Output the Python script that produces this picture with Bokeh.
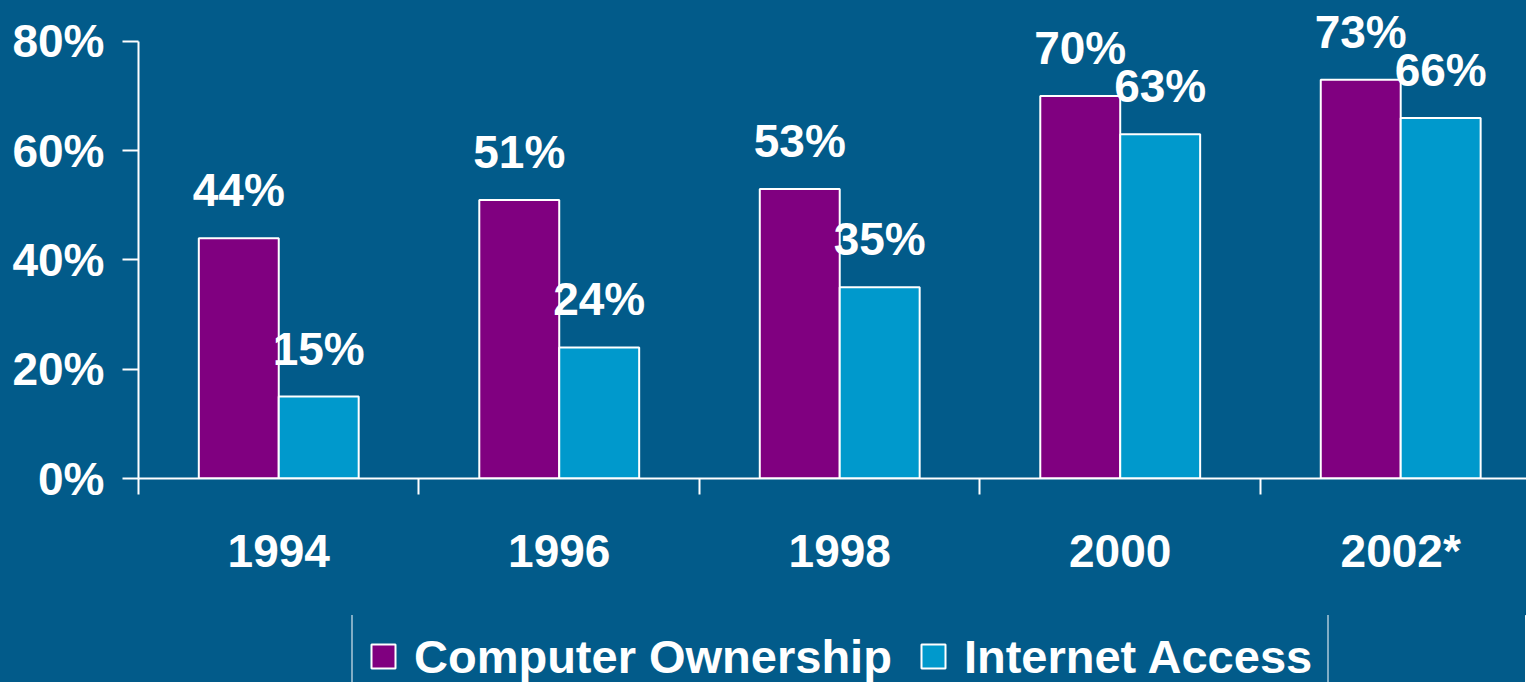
from bokeh.plotting import figure
from bokeh.layouts import column
from bokeh.models import ColumnDataSource, FixedTicker, Legend, LegendItem, Range1d
from bokeh.transform import dodge
from bokeh.core.properties import value
from bokeh.embed import file_html
from bokeh.resources import INLINE

# ---- data ----
years = ["1994", "1996", "1998", "2000", "2002*"]
computer_ownership = [44, 51, 53, 70, 73]
internet_access = [15, 24, 35, 63, 66]
y_ticks = [0, 20, 40, 60, 80]
y_tick_labels = ["0%", "20%", "40%", "60%", "80%"]
series_names = ["Computer Ownership", "Internet Access"]

# ---- style ----
BG = "#025B8A"
PURPLE = "#800080"
CYAN = "#0099CC"
FONT = "Liberation Sans"
BAR_W = 0.57

centers = [2 * i + 1 for i in range(len(years))]
bounds = [2 * i for i in range(len(years) + 1)]
source = ColumnDataSource(dict(
    x=centers,
    comp=computer_ownership,
    inet=internet_access,
    comp_lbl=[f"{v}%" for v in computer_ownership],
    inet_lbl=[f"{v}%" for v in internet_access],
))

p = figure(width=1526, height=615,
           x_range=Range1d(0, 9.897), y_range=Range1d(0, 87.5),
           output_backend="svg", toolbar_location=None,
           background_fill_color=None, border_fill_color=None,
           min_border_left=138, min_border_right=0,
           min_border_top=0, min_border_bottom=137)
p.outline_line_color = None
p.xgrid.grid_line_color = None
p.ygrid.grid_line_color = None

bar_style = dict(width=BAR_W, line_color="white", line_width=2)
p.vbar(x=dodge("x", -BAR_W / 2, range=p.x_range), top="comp", source=source,
       fill_color=PURPLE, **bar_style)
p.vbar(x=dodge("x", BAR_W / 2, range=p.x_range), top="inet", source=source,
       fill_color=CYAN, **bar_style)

for col, lbl, off in (("comp", "comp_lbl", -BAR_W / 2), ("inet", "inet_lbl", BAR_W / 2)):
    p.text(x=dodge("x", off, range=p.x_range), y=col, text=lbl, source=source,
           text_align="center", text_baseline="alphabetic", y_offset=-48,
           text_font=value(FONT), text_font_style="bold", text_font_size="46px",
           text_color="white")

# x axis
xa = p.xaxis[0]
xa.ticker = FixedTicker(ticks=centers, minor_ticks=bounds)
xa.major_label_overrides = {c: y for c, y in zip(centers, years)}
xa.axis_line_color = "white"
xa.axis_line_width = 2
xa.major_tick_line_color = None
xa.major_tick_out = 16
xa.major_tick_in = 0
xa.minor_tick_line_color = "white"
xa.minor_tick_line_width = 2
xa.minor_tick_out = 16
xa.minor_tick_in = 0
xa.major_label_standoff = 30
xa.major_label_text_font = FONT
xa.major_label_text_font_style = "bold"
xa.major_label_text_font_size = "46px"
xa.major_label_text_color = "white"

# y axis
ya = p.yaxis[0]
ya.ticker = FixedTicker(ticks=y_ticks)
ya.bounds = (0, 80)
ya.major_label_overrides = dict(zip(y_ticks, y_tick_labels))
ya.axis_line_color = "white"
ya.axis_line_width = 2
ya.major_tick_line_color = "white"
ya.major_tick_line_width = 2
ya.major_tick_out = 16
ya.major_tick_in = 0
ya.minor_tick_line_color = None
ya.major_label_standoff = 18
ya.major_label_text_font = FONT
ya.major_label_text_font_style = "bold"
ya.major_label_text_font_size = "46px"
ya.major_label_text_color = "white"

# ---- legend strip under the chart (same bars, scrolled out of view) ----
q = figure(width=1526, height=67, x_range=Range1d(-101, -100), y_range=Range1d(0, 1),
           output_backend="svg", toolbar_location=None,
           x_axis_location=None, y_axis_location=None,
           background_fill_color=None, border_fill_color=None,
           min_border=0, min_border_left=138, min_border_right=0,
           min_border_top=0, min_border_bottom=0)
q.outline_line_color = None
q.xgrid.grid_line_color = None
q.ygrid.grid_line_color = None
k1 = q.vbar(x="x", top="comp", source=source, fill_color=PURPLE, **bar_style)
k2 = q.vbar(x="x", top="inet", source=source, fill_color=CYAN, **bar_style)

legend = Legend(items=[LegendItem(label=series_names[0], renderers=[k1]),
                       LegendItem(label=series_names[1], renderers=[k2])],
                orientation="horizontal", location=(213, -18.5),
                padding=15, spacing=26, margin=0,
                glyph_width=30, glyph_height=30, label_standoff=16,
                label_text_font=FONT, label_text_font_style="bold",
                label_text_font_size="47px", label_text_color="white",
                border_line_color="white", border_line_width=2,
                background_fill_color=BG, background_fill_alpha=1)
q.add_layout(legend, "center")

page = column(p, q, spacing=0, styles={"background-color": BG})
open("out.html", "w").write(file_html(page, INLINE))
